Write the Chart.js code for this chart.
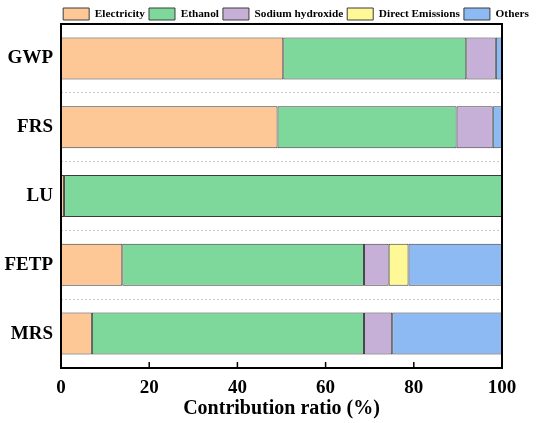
<!DOCTYPE html>
<html>
<head>
<meta charset="utf-8">
<script src="https://cdn.jsdelivr.net/npm/chart.js@4"></script>
<style>
  html, body { margin: 0; padding: 0; background: #fff; }
  canvas { display: block; }
</style>
</head>
<body>
<canvas id="chart" width="550" height="423"></canvas>
<script>
const categories = ['GWP', 'FRS', 'LU', 'FETP', 'MRS'];
const electricity = [50.4, 49.1, 0.7, 13.9, 7.0];
const ethanol = [41.5, 40.6, 99.3, 54.8, 61.7];
const sodiumHydroxide = [6.7, 8.2, null, 5.6, 6.4];
const directEmissions = [null, null, null, 4.5, null];
const others = [1.4, 2.1, null, 21.2, 24.9];
const xTicks = [0, 20, 40, 60, 80, 100];

const serif = 'Liberation Serif';

// frame round the plot and small inward ticks on the x axis
const framePlugin = {
    id: 'frame',
    beforeLayout(chart) {
        const legend = chart.legend;
        if (legend && !legend._fitPatched) {
            const fit = legend.fit;
            legend.fit = function () {
                fit.call(this);
                this.height = 20;
            };
            legend._fitPatched = true;
        }
    },
    afterLayout(chart) {
        // legend in the original sits to the right of centre
        chart.legend.left += 45;
        chart.legend.right += 45;
    },
    afterDraw(chart) {
        const { ctx, chartArea: a, scales } = chart;
        ctx.save();
        ctx.strokeStyle = '#000';
        ctx.lineWidth = 2;
        ctx.strokeRect(a.left, a.top, a.right - a.left, a.bottom - a.top);
        ctx.lineWidth = 1.5;
        xTicks.slice(1, -1).forEach(v => {
            const x = scales.x.getPixelForValue(v);
            ctx.beginPath();
            ctx.moveTo(x, a.bottom);
            ctx.lineTo(x, a.bottom - 6);
            ctx.stroke();
        });
        ctx.restore();
    }
};

const makeSet = (label, data, color) => ({
    label,
    data,
    backgroundColor: color,
    borderColor: '#3c3c3c',
    borderWidth: 1,
    borderSkipped: false,
    barPercentage: 0.61,
    categoryPercentage: 1
});

new Chart(document.getElementById('chart').getContext('2d'), {
    type: 'bar',
    data: {
        labels: categories,
        datasets: [
            makeSet('Electricity', electricity, '#fec896'),
            makeSet('Ethanol', ethanol, '#7fd89b'),
            makeSet('Sodium hydroxide', sodiumHydroxide, '#c7b0d8'),
            makeSet('Direct Emissions', directEmissions, '#fff897'),
            makeSet('Others', others, '#8dbaf3')
        ]
    },
    options: {
        indexAxis: 'y',
        responsive: false,
        animation: false,
        layout: { padding: { left: 0, right: 48, top: 4, bottom: 0 } },
        scales: {
            x: {
                stacked: true,
                min: 0,
                max: 100,
                afterBuildTicks: (scale) => { scale.ticks = xTicks.map(v => ({ value: v })); },
                afterFit: (scale) => { scale.height = 55; },
                grid: { display: false },
                border: { display: false },
                ticks: {
                    color: '#000',
                    padding: 1,
                    maxRotation: 0,
                    font: { family: serif, size: 19, weight: 'bold' }
                },
                title: {
                    display: true,
                    text: 'Contribution ratio (%)',
                    color: '#000',
                    padding: { top: 0, bottom: 2 },
                    font: { family: serif, size: 20, weight: 'bold' }
                }
            },
            y: {
                stacked: true,
                afterFit: (scale) => { scale.width = 61; },
                grid: {
                    offset: true,
                    color: '#c8c8c8',
                    lineWidth: 1,
                    drawTicks: false
                },
                border: { display: false, dash: [2, 2] },
                ticks: {
                    color: '#000',
                    padding: 8,
                    font: { family: serif, size: 19, weight: 'bold' }
                }
            }
        },
        plugins: {
            legend: {
                position: 'top',
                labels: {
                    boxWidth: 26,
                    boxHeight: 12,
                    padding: 4,
                    color: '#000',
                    font: { family: serif, size: 11.3, weight: 'bold' }
                }
            },
            tooltip: { enabled: false }
        }
    },
    plugins: [framePlugin]
});
</script>
</body>
</html>
